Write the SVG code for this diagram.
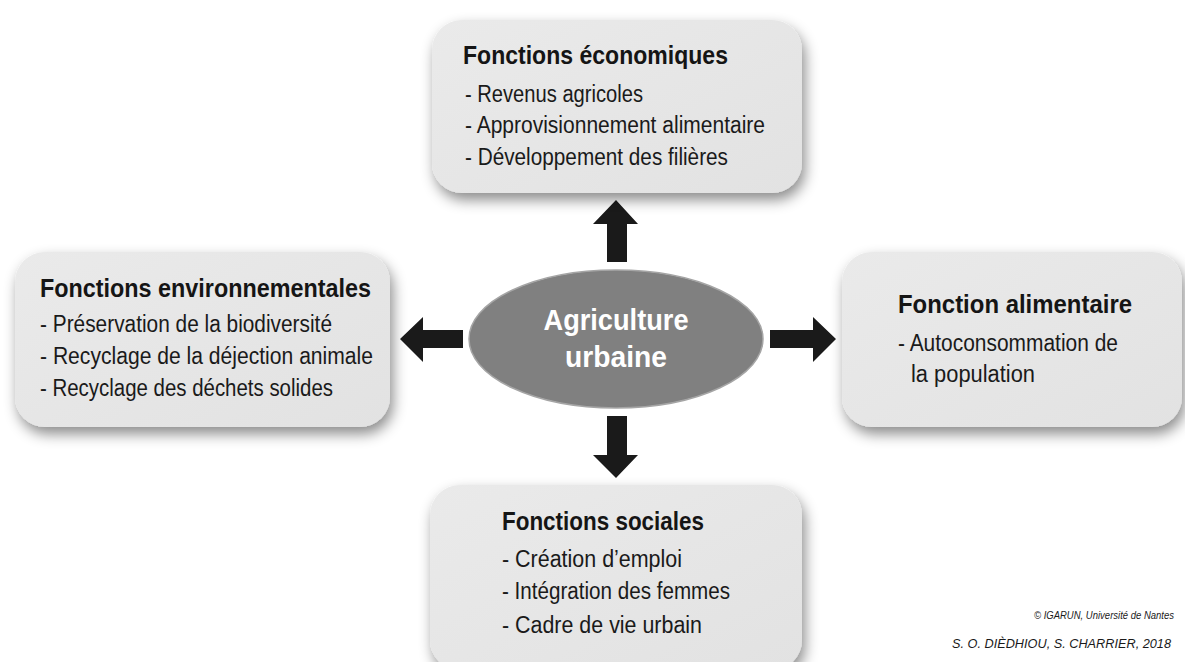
<svg xmlns="http://www.w3.org/2000/svg" width="1185" height="662" viewBox="0 0 1185 662">
  <defs>
    <filter id="shadow" x="-10%" y="-15%" width="125%" height="145%">
      <feDropShadow dx="3" dy="7" stdDeviation="7" flood-color="#000" flood-opacity="0.45"/>
    </filter>
    <linearGradient id="boxfill" x1="0" y1="0" x2="1" y2="1">
      <stop offset="0" stop-color="#eaeaea"/>
      <stop offset="1" stop-color="#e2e2e2"/>
    </linearGradient>
  </defs>
  <style>
    .box { fill: url(#boxfill); filter: url(#shadow); }
    .title { font-family: "Liberation Sans", Arial, sans-serif; font-weight: bold; font-size: 26px; fill: #151515; }
    .body { font-family: "Liberation Sans", Arial, sans-serif; font-size: 23px; fill: #1a1a1a; }
    .center { font-family: "Liberation Sans", Arial, sans-serif; font-weight: bold; font-size: 29px; fill: #ffffff; }
    .arrow { fill: #1a1a1a; }
    .credit { font-family: "Liberation Sans", Arial, sans-serif; font-style: italic; fill: #1a1a1a; }
  </style>
  <rect width="1185" height="662" fill="#ffffff"/>

  <g id="connectors">
    <polygon class="arrow" points="616,200 638,224 627,224 627,262 607,262 607,224 593,224"/>
    <polygon class="arrow" points="400,339 423,317 423,330 463,330 463,348 423,348 423,362"/>
    <polygon class="arrow" points="836,339 813,317 813,330 770,330 770,348 813,348 813,362"/>
    <polygon class="arrow" points="616,478 638,455 627,455 627,416 607,416 607,455 593,455"/>
  </g>

  <g id="node-economiques">
    <rect class="box" x="432" y="20" width="370" height="173" rx="30" ry="30"/>
    <text class="title" x="463" y="64" textLength="265" lengthAdjust="spacingAndGlyphs">Fonctions économiques</text>
    <text class="body" x="465" y="102" textLength="178" lengthAdjust="spacingAndGlyphs">- Revenus agricoles</text>
    <text class="body" x="465" y="133" textLength="300" lengthAdjust="spacingAndGlyphs">- Approvisionnement alimentaire</text>
    <text class="body" x="465" y="165" textLength="263" lengthAdjust="spacingAndGlyphs">- Développement des filières</text>
  </g>

  <g id="node-environnementales">
    <rect class="box" x="15" y="252" width="375" height="175" rx="30" ry="30"/>
    <text class="title" x="40" y="297" textLength="331" lengthAdjust="spacingAndGlyphs">Fonctions environnementales</text>
    <text class="body" x="40" y="332" textLength="292" lengthAdjust="spacingAndGlyphs">- Préservation de la biodiversité</text>
    <text class="body" x="40" y="364" textLength="333" lengthAdjust="spacingAndGlyphs">- Recyclage de la déjection animale</text>
    <text class="body" x="40" y="396" textLength="293" lengthAdjust="spacingAndGlyphs">- Recyclage des déchets solides</text>
  </g>

  <g id="node-alimentaire">
    <rect class="box" x="842" y="252" width="340" height="175" rx="30" ry="30"/>
    <text class="title" x="898" y="313" textLength="234" lengthAdjust="spacingAndGlyphs">Fonction alimentaire</text>
    <text class="body" x="898" y="351" textLength="220" lengthAdjust="spacingAndGlyphs">- Autoconsommation de</text>
    <text class="body" x="911" y="382" textLength="124" lengthAdjust="spacingAndGlyphs">la population</text>
  </g>

  <g id="node-sociales">
    <rect class="box" x="430" y="485" width="372" height="185" rx="30" ry="30"/>
    <text class="title" x="502" y="530" textLength="202" lengthAdjust="spacingAndGlyphs">Fonctions sociales</text>
    <text class="body" x="502" y="567" textLength="180" lengthAdjust="spacingAndGlyphs">- Création d’emploi</text>
    <text class="body" x="502" y="599" textLength="228" lengthAdjust="spacingAndGlyphs">- Intégration des femmes</text>
    <text class="body" x="502" y="633" textLength="200" lengthAdjust="spacingAndGlyphs">- Cadre de vie urbain</text>
  </g>

  <g id="node-agriculture">
    <ellipse cx="616" cy="339" rx="147" ry="69" fill="#808080" stroke="#a5a5a5" stroke-width="1.5"/>
    <text class="center" x="616" y="330" text-anchor="middle" textLength="145" lengthAdjust="spacingAndGlyphs">Agriculture</text>
    <text class="center" x="616" y="367" text-anchor="middle" textLength="102" lengthAdjust="spacingAndGlyphs">urbaine</text>
  </g>

  <g id="credits">
    <text class="credit" x="1034" y="619" font-size="10" textLength="140" lengthAdjust="spacingAndGlyphs">© IGARUN, Université de Nantes</text>
    <text class="credit" x="952" y="648" font-size="13.5" textLength="219" lengthAdjust="spacingAndGlyphs">S. O. DIÈDHIOU, S. CHARRIER, 2018</text>
  </g>
</svg>
